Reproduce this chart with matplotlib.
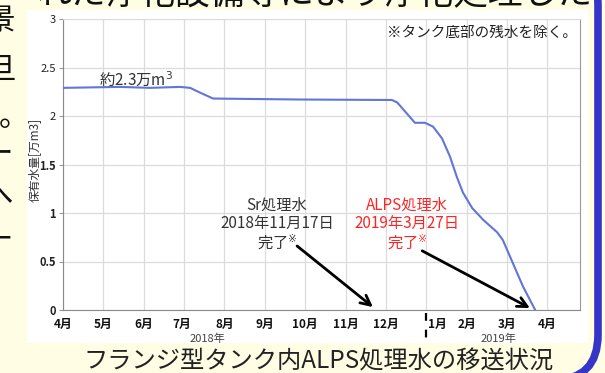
import numpy as np
import matplotlib
matplotlib.use('agg')
import matplotlib.pyplot as plt
from matplotlib.patches import Rectangle, FancyBboxPatch
from matplotlib.transforms import blended_transform_factory

plt.rcParams['font.family'] = ['Noto Sans CJK JP', 'DejaVu Sans']

# Stored volume in flange tanks (10^4 m3), x = months since April 2018
month_pos = [0, 1.41, 2.16, 2.90, 3.15, 3.40, 3.72, 5.87, 8.15, 8.28, 8.72, 8.97,
             9.17, 9.39, 9.59, 9.76, 9.91, 10.14, 10.41, 10.76, 10.90, 11.15, 11.40, 11.70]
volume = [2.29, 2.30, 2.29, 2.30, 2.29, 2.24, 2.18, 2.17, 2.165, 2.14, 1.93, 1.93,
          1.89, 1.77, 1.58, 1.37, 1.21, 1.05, 0.93, 0.80, 0.72, 0.48, 0.24, 0.0]

month_labels = ['4月', '5月', '6月', '7月', '8月', '9月', '10月', '11月', '12月',
                '1月', '2月', '3月', '4月']
label_pos = [0, 1, 2, 2.93, 4, 5, 6, 7, 8, 9.27, 10, 11, 12]
year_labels = ['2018年', '2019年']
year_pos = [3.57, 10.8]
y_ticks = [0, 0.5, 1, 1.5, 2, 2.5, 3]

W, H = 605, 373
fig = plt.figure(figsize=(W / 100, H / 100), dpi=100)
fig.patch.set_facecolor('#fffde4')

def px(x, y):
    return x / W, 1 - y / H

# white panel behind the chart
x0, y0 = px(27, 343)
fig.patches.append(Rectangle((x0, y0), (588 - 27) / W, (343 - 10) / H,
                             transform=fig.transFigure, facecolor='white',
                             edgecolor='none', zorder=0))

# blue frame on the right with rounded lower corner
fb = FancyBboxPatch(px(-60, 380), 658 / W, 420 / H,
                    boxstyle='round,pad=0,rounding_size=0.075',
                    transform=fig.transFigure, facecolor='none',
                    edgecolor='#3535c8', lw=5.5, zorder=1,
                    mutation_aspect=W / H)
fig.patches.append(fb)

# cut-off text from the slide around the chart
fig.text(592 / W, 1 + 5 / H, 'れた浄化設備等により浄化処理した', ha='right', va='center',
         fontsize=25, color='#111')
for yy, ch, xx in [(22, '景', 0), (70, '旦', 0), (118, '。', 14), (155, 'ー', -2),
                   (195, 'へ', -2), (240, '一', -4), (282, '、', 4)]:
    fig.text(xx / W, 1 - yy / H, ch, ha='center', va='center', fontsize=22, color='#111')

fig.text(319 / W, 1 - 361 / H, 'フランジ型タンク内ALPS処理水の移送状況', ha='center',
         va='center', fontsize=17.5, color='#222')

ax = fig.add_axes([63 / W, 1 - 310 / H, (580 - 63) / W, (310 - 19) / H])
ax.set_zorder(5)
ax.set_facecolor('white')
ax.set_xlim(0, 12.81)
ax.set_ylim(0, 3)

ax.plot(month_pos, volume, color='#6275d8', lw=1.5, zorder=3)

# month gridlines on major ticks, labels on minor ticks
ax.xaxis.remove_overlapping_locs = False
ax.set_xticks(range(13))
ax.set_xticklabels([])
ax.set_xticks(label_pos, minor=True)
ax.set_xticklabels(month_labels, minor=True, fontsize=8.5, fontweight='bold', color='#111')
ax.tick_params(axis='x', which='both', length=0, pad=6)
ax.grid(True, axis='x', which='major', color='#dcdcdc', lw=0.9)

ax.set_yticks(y_ticks)
ax.set_yticklabels([str(v) for v in [0, 0.5, 1, 1.5, 2, 2.5, 3]], fontsize=8, color='#222')
for lab, v in zip(ax.get_yticklabels(), y_ticks):
    if v <= 1.5:
        lab.set_fontweight('bold')
ax.tick_params(axis='y', length=3, width=0.8, color='#999', pad=2)
ax.grid(True, axis='y', color='#dcdcdc', lw=0.9)

for side in ['left', 'bottom']:
    ax.spines[side].set_color('#8a8a8a')
ax.spines['right'].set_color('#9a9a9a')
ax.spines['top'].set_color('#dcdcdc')

fig.text(34 / W, 1 - 160 / H, '保有水量[万m3]', rotation=90, ha='center', va='center',
         fontsize=8.5, color='#333', zorder=6)

# year labels and divider below the axis
trans = blended_transform_factory(ax.transData, ax.transAxes)
for name, xp in zip(year_labels, year_pos):
    ax.text(xp, -0.1, name, transform=trans, ha='center', va='center',
            fontsize=8, color='#444')
ax.plot([9, 9], [-0.012, -0.095], transform=trans, color='black', lw=1.6,
        ls=(0, (3.5, 4)), clip_on=False)

ax.text(1.8, 2.38, '約2.3万m$^3$', ha='center', va='center', fontsize=11, color='#333')
ax.text(0.994, 0.952, '※タンク底部の残水を除く。', transform=ax.transAxes, ha='right',
        va='center', fontsize=10.5, color='#222')

ax.text(5.30, 0.88, 'Sr処理水\n2018年11月17日\n完了$^{※}$', ha='center', va='center',
        fontsize=11, color='#333', linespacing=1.08)
ax.text(8.53, 0.88, 'ALPS処理水\n2019年3月27日\n完了$^{※}$', ha='center', va='center',
        fontsize=11, color='#ff2424', linespacing=1.08)

arrow = dict(arrowstyle='->,head_length=0.7,head_width=0.35', color='black', lw=2,
             shrinkA=0, shrinkB=0)
ax.annotate('', xy=(7.68, 0.03), xytext=(5.8, 0.66), arrowprops=arrow)
ax.annotate('', xy=(11.57, 0.02), xytext=(8.9, 0.61), arrowprops=arrow)

fig.savefig('out.png', dpi=100)
